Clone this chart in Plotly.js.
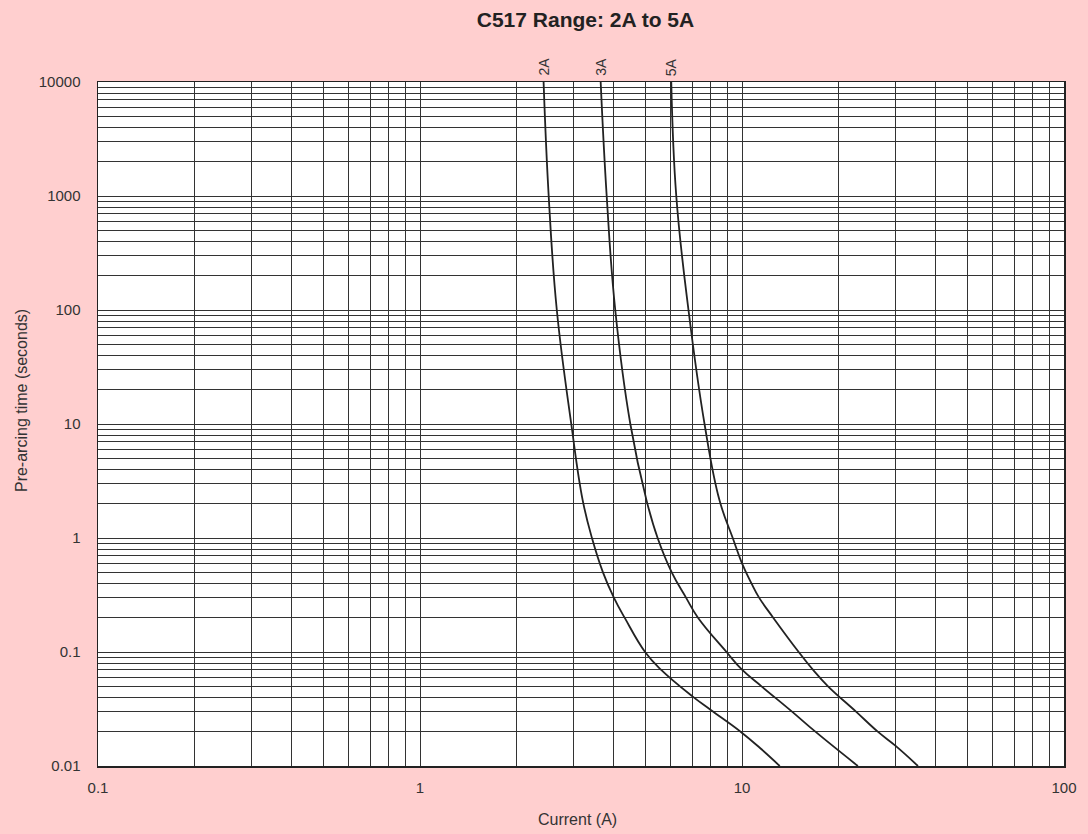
<!DOCTYPE html>
<html>
<head>
<meta charset="utf-8">
<script src="https://cdn.plot.ly/plotly-3.0.1.min.js"></script>
<style>html,body{margin:0;padding:0;background:#ffcfcf;}#chart{width:1088px;height:834px;}</style>
</head>
<body>
<div id="chart"></div>
<script>
// Current (A) and pre-arcing time (s)
const current2A = [2.42, 2.51, 2.66, 2.95, 3.2, 3.42, 3.70, 4.0, 4.32, 5.0, 5.6, 7.0, 8.0, 9.9, 11.4, 13.1];
const time2A    = [10000, 1000, 100, 10, 2.15, 1.0, 0.5, 0.3, 0.2, 0.1, 0.07, 0.041, 0.031, 0.02, 0.0143, 0.01];

const current3A = [3.64, 3.80, 4.04, 4.5, 5.05, 5.47, 6.05, 6.7, 7.3, 8.95, 10.0, 11.5, 14.3, 16.9, 22.9];
const time3A    = [10000, 1000, 100, 10, 2.15, 1.0, 0.5, 0.3, 0.2, 0.1, 0.07, 0.05, 0.03, 0.02, 0.01];

const current5A = [6.03, 6.25, 6.82, 7.65, 8.51, 9.36, 10.0, 10.7, 11.3, 12.5, 15.0, 16.6, 18.5, 22.6, 26.4, 30.0, 35.2];
const time5A    = [10000, 1000, 100, 10, 2.15, 1.0, 0.6, 0.4, 0.3, 0.2, 0.1, 0.07, 0.05, 0.03, 0.02, 0.015, 0.01];

const ratingLabels = ['2A', '3A', '5A'];
const xDecades = [0.1, 1, 10, 100];
const yDecades = [0.01, 0.1, 1, 10, 100, 1000, 10000];

function gridVals(decades) {
  const vals = [], text = [];
  for (let i = 0; i < decades.length; i++) {
    const d = decades[i];
    vals.push(d); text.push(String(d));
    if (i < decades.length - 1) {
      for (let k = 2; k <= 9; k++) { vals.push(d * k); text.push(''); }
    }
  }
  return {vals, text};
}
const xg = gridVals(xDecades);
const yg = gridVals(yDecades);

const FONT = 'Liberation Sans, Arial, Helvetica, sans-serif';
const lineStyle = {color: '#222', width: 1.8, shape: 'spline', smoothing: 1.2};
const series = [[current2A, time2A], [current3A, time3A], [current5A, time5A]];
const traces = series.map((s, i) => ({
  x: s[0], y: s[1], type: 'scatter', mode: 'lines', line: lineStyle,
  name: ratingLabels[i], showlegend: false, hoverinfo: 'x+y'
}));

const annotations = series.map((s, i) => ({
  x: Math.log10(s[0][0]), y: 1, xref: 'x', yref: 'paper',
  text: ratingLabels[i], showarrow: false, textangle: -90,
  xanchor: 'center', yanchor: 'bottom', yshift: 4,
  font: {family: FONT, size: 14, color: '#333'}
}));
annotations.push({
  text: 'Current (A)', xref: 'paper', yref: 'paper', x: 0.4959, y: -0.0789,
  xanchor: 'center', yanchor: 'middle', showarrow: false,
  font: {family: FONT, size: 16, color: '#333'}
});
annotations.push({
  text: 'Pre-arcing time (seconds)', xref: 'paper', yref: 'paper', x: -0.0797, y: 0.5336,
  xanchor: 'center', yanchor: 'middle', showarrow: false, textangle: -90,
  font: {family: FONT, size: 16, color: '#333'}
});

const layout = {
  width: 1088, height: 834,
  paper_bgcolor: '#ffcfcf', plot_bgcolor: '#ffffff',
  margin: {l: 98, r: 24, t: 82, b: 68},
  font: {family: FONT, size: 15, color: '#333'},
  title: {text: '<b>C517 Range: 2A to 5A</b>', x: 585.5 / 1088, xanchor: 'center', y: 1 - 19.5 / 834, yanchor: 'middle',
          font: {family: FONT, size: 21, color: '#222'}},
  xaxis: {
    type: 'log', range: [-1, 2], tickmode: 'array', tickvals: xg.vals, ticktext: xg.text,
    showgrid: true, gridcolor: '#333', gridwidth: 1, ticks: '', zeroline: false,
    showline: true, linecolor: '#222', linewidth: 1.5, mirror: true,
    ticklabelstandoff: 7, tickfont: {size: 15, color: '#333'}
  },
  yaxis: {
    type: 'log', range: [-2, 4], tickmode: 'array', tickvals: yg.vals, ticktext: yg.text,
    showgrid: true, gridcolor: '#333', gridwidth: 1, ticks: '', zeroline: false,
    showline: true, linecolor: '#222', linewidth: 1.5, mirror: true,
    ticklabelstandoff: 13, tickfont: {size: 15, color: '#333'}
  },
  annotations: annotations
};

Plotly.newPlot('chart', traces, layout, {displayModeBar: false, staticPlot: true});
</script>
</body>
</html>
